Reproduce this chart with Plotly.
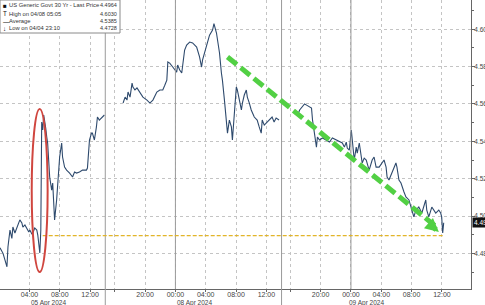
import plotly.graph_objects as go

# ---------------- data ----------------
seg1_t = ["2024-04-05 00:07","2024-04-05 00:31","2024-04-05 00:46","2024-04-05 01:02","2024-04-05 01:10",
          "2024-04-05 01:26","2024-04-05 01:41","2024-04-05 01:49","2024-04-05 02:05","2024-04-05 02:21",
          "2024-04-05 02:29","2024-04-05 02:44","2024-04-05 03:00","2024-04-05 03:08","2024-04-05 03:24",
          "2024-04-05 03:39","2024-04-05 03:55","2024-04-05 04:03","2024-04-05 04:19","2024-04-05 04:27",
          "2024-04-05 04:42","2024-04-05 04:58","2024-04-05 05:06","2024-04-05 05:22","2024-04-05 05:30",
          "2024-04-05 05:37","2024-04-05 05:45","2024-04-05 05:53","2024-04-05 06:01","2024-04-05 06:09",
          "2024-04-05 06:17","2024-04-05 06:24","2024-04-05 06:40","2024-04-05 06:56","2024-04-05 07:04",
          "2024-04-05 07:19","2024-04-05 07:35","2024-04-05 07:43","2024-04-05 07:59","2024-04-05 08:15",
          "2024-04-05 08:22","2024-04-05 08:38","2024-04-05 08:54","2024-04-05 09:18","2024-04-05 09:41",
          "2024-04-05 09:57","2024-04-05 10:13","2024-04-05 10:36","2024-04-05 11:00","2024-04-05 11:31",
          "2024-04-05 11:39","2024-04-05 11:55","2024-04-05 12:11","2024-04-05 12:18","2024-04-05 12:34",
          "2024-04-05 12:50","2024-04-05 12:58","2024-04-05 13:13","2024-04-05 13:29","2024-04-05 13:37",
          "2024-04-05 13:53"]
seg1_v = [4.4830,4.4800,4.4765,4.4728,4.4834,4.4925,4.4880,4.4941,4.4909,4.4936,
          4.4952,4.4979,4.4963,4.4941,4.4952,4.4936,4.4914,4.4925,4.4904,4.4909,
          4.4936,4.4925,4.4898,4.4802,4.4925,4.5503,4.5461,4.5541,4.5514,4.5470,
          4.5423,4.5391,4.5209,4.5139,4.5177,4.4979,4.5086,4.5155,4.5316,4.5391,
          4.5316,4.5262,4.5246,4.5230,4.5209,4.5236,4.5230,4.5236,4.5246,4.5246,
          4.5257,4.5407,4.5444,4.5444,4.5407,4.5477,4.5530,4.5514,4.5525,4.5530,
          4.5541]

seg2_t = ["2024-04-07 17:06","2024-04-07 17:22","2024-04-07 17:37","2024-04-07 17:45","2024-04-07 18:01",
          "2024-04-07 18:17","2024-04-07 18:24","2024-04-07 18:40","2024-04-07 18:56","2024-04-07 19:20",
          "2024-04-07 19:43","2024-04-07 20:15","2024-04-07 20:38","2024-04-07 21:02","2024-04-07 21:33",
          "2024-04-07 21:57","2024-04-07 22:20","2024-04-07 22:36","2024-04-07 22:52","2024-04-07 23:00",
          "2024-04-07 23:15","2024-04-07 23:39","2024-04-07 23:55","2024-04-08 00:10","2024-04-08 00:18",
          "2024-04-08 00:34","2024-04-08 00:50","2024-04-08 00:58","2024-04-08 01:13","2024-04-08 01:29",
          "2024-04-08 01:53","2024-04-08 02:16","2024-04-08 02:48","2024-04-08 03:11","2024-04-08 03:27",
          "2024-04-08 03:35","2024-04-08 03:51","2024-04-08 04:06","2024-04-08 04:30","2024-04-08 04:54",
          "2024-04-08 05:05","2024-04-08 05:25","2024-04-08 05:33","2024-04-08 05:49","2024-04-08 06:04",
          "2024-04-08 06:12","2024-04-08 06:28","2024-04-08 06:44","2024-04-08 06:52","2024-04-08 07:07",
          "2024-04-08 07:23","2024-04-08 07:31","2024-04-08 07:47","2024-04-08 08:02","2024-04-08 08:10",
          "2024-04-08 08:26","2024-04-08 08:42","2024-04-08 08:50","2024-04-08 09:05","2024-04-08 09:21",
          "2024-04-08 09:29","2024-04-08 09:45","2024-04-08 10:00","2024-04-08 10:24","2024-04-08 10:47",
          "2024-04-08 11:03","2024-04-08 11:19","2024-04-08 11:27","2024-04-08 11:43","2024-04-08 11:58",
          "2024-04-08 12:22","2024-04-08 12:45","2024-04-08 13:01","2024-04-08 13:17","2024-04-08 13:40"]
seg2_v = [4.5605,4.5637,4.5621,4.5664,4.5637,4.5712,4.5691,4.5675,4.5686,4.5664,
          4.5637,4.5621,4.5605,4.5621,4.5664,4.5675,4.5675,4.5700,4.5728,4.5825,
          4.5819,4.5798,4.5780,4.5771,4.5809,4.5782,4.5766,4.5819,4.5889,4.5916,
          4.5932,4.5927,4.5905,4.5852,4.5798,4.5836,4.5873,4.5905,4.5969,4.5996,
          4.6030,4.5980,4.5943,4.5873,4.5766,4.5728,4.5621,4.5514,4.5444,4.5514,
          4.5477,4.5407,4.5552,4.5691,4.5675,4.5621,4.5568,4.5605,4.5648,4.5675,
          4.5637,4.5605,4.5568,4.5530,4.5514,4.5477,4.5444,4.5514,4.5487,4.5498,
          4.5514,4.5530,4.5503,4.5525,4.5514]

seg3_t = ["2024-04-08 16:50","2024-04-08 16:58","2024-04-08 17:14","2024-04-08 17:37","2024-04-08 17:53",
          "2024-04-08 18:09","2024-04-08 18:32","2024-04-08 18:48","2024-04-08 18:56","2024-04-08 19:12",
          "2024-04-08 19:27","2024-04-08 19:35","2024-04-08 19:51","2024-04-08 20:15","2024-04-08 20:46",
          "2024-04-08 21:10","2024-04-08 21:33","2024-04-08 22:05","2024-04-08 22:28","2024-04-08 22:52",
          "2024-04-08 23:08","2024-04-08 23:23","2024-04-08 23:31","2024-04-08 23:47","2024-04-09 00:03",
          "2024-04-09 00:10","2024-04-09 00:26","2024-04-09 00:42","2024-04-09 00:50","2024-04-09 01:06",
          "2024-04-09 01:21","2024-04-09 01:29","2024-04-09 01:45","2024-04-09 02:01","2024-04-09 02:24",
          "2024-04-09 02:48","2024-04-09 03:03","2024-04-09 03:19","2024-04-09 03:43","2024-04-09 04:06",
          "2024-04-09 04:22","2024-04-09 04:38","2024-04-09 04:46","2024-04-09 05:01","2024-04-09 05:25",
          "2024-04-09 05:41","2024-04-09 05:56","2024-04-09 06:04","2024-04-09 06:20","2024-04-09 06:36",
          "2024-04-09 06:44","2024-04-09 06:59","2024-04-09 07:15","2024-04-09 07:39","2024-04-09 08:02",
          "2024-04-09 08:18","2024-04-09 08:34","2024-04-09 08:57","2024-04-09 09:21","2024-04-09 09:37",
          "2024-04-09 09:52","2024-04-09 10:00","2024-04-09 10:16","2024-04-09 10:40","2024-04-09 10:55",
          "2024-04-09 11:11","2024-04-09 11:35","2024-04-09 11:50","2024-04-09 11:58","2024-04-09 12:06",
          "2024-04-09 12:14"]
seg3_v = [4.5552,4.5541,4.5568,4.5584,4.5600,4.5594,4.5584,4.5578,4.5514,4.5444,
          4.5369,4.5423,4.5407,4.5418,4.5407,4.5396,4.5418,4.5407,4.5396,4.5391,
          4.5369,4.5396,4.5364,4.5353,4.5461,4.5407,4.5300,4.5369,4.5337,4.5391,
          4.5300,4.5284,4.5310,4.5300,4.5246,4.5300,4.5316,4.5262,4.5262,4.5284,
          4.5300,4.5262,4.5209,4.5193,4.5230,4.5262,4.5284,4.5262,4.5193,4.5177,
          4.5155,4.5130,4.5102,4.5086,4.5032,4.4995,4.5032,4.5048,4.5016,4.5048,
          4.5086,4.5032,4.4995,4.5048,4.5032,4.5016,4.5032,4.5016,4.4995,4.4909,
          4.4964]

x_tickvals = ["2024-04-05 04:00","2024-04-05 08:00","2024-04-05 12:00",
              "2024-04-07 16:00","2024-04-07 20:00","2024-04-08 00:00","2024-04-08 04:00",
              "2024-04-08 08:00","2024-04-08 12:00","2024-04-08 16:00","2024-04-08 20:00",
              "2024-04-09 00:00","2024-04-09 04:00","2024-04-09 08:00","2024-04-09 12:00"]
x_ticktext = ["04:00","08:00","12:00","","20:00","00:00","04:00","08:00","12:00","","20:00",
              "00:00","04:00","08:00","12:00"]
date_labels = ["05 Apr 2024","08 Apr 2024","09 Apr 2024"]
date_label_pos = ["2024-04-05 06:30","2024-04-08 02:30","2024-04-09 02:00"]
day_lines = ["2024-04-08 00:00","2024-04-09 00:00"]
session_breaks = ["2024-04-05 14:00","2024-04-08 14:00"]
y_tickvals = [4.48,4.50,4.52,4.54,4.56,4.58,4.60]

legend_names = ["US Generic Govt 30 Yr - Last Price","High on 04/08 05:05","Average","Low on 04/04 23:10"]
legend_symbols = ["■","T","—","↓"]
legend_values = [4.4964,4.6030,4.5385,4.4728]
last_price = 4.4964
ref_level = 4.4895

# ---------------- figure ----------------
xs = seg1_t + [None] + seg2_t + [None] + seg3_t
ys = seg1_v + [None] + seg2_v + [None] + seg3_v

fig = go.Figure()
fig.add_trace(go.Scatter(x=xs, y=ys, mode="lines", connectgaps=False,
                         line=dict(color="#2e4a6d", width=1.1), hoverinfo="skip"))

font = "Liberation Sans, Arial, sans-serif"
fig.update_layout(
    width=485, height=305, margin=dict(l=0, r=14, t=0, b=16, autoexpand=False),
    paper_bgcolor="white", plot_bgcolor="white", showlegend=False,
    font=dict(family=font, size=7, color="#444"),
)
fig.update_xaxes(
    type="date", range=["2024-04-05 00:07", "2024-04-09 15:50"], automargin=False,
    rangebreaks=[dict(values=["2024-04-05 14:00"], dvalue=int(48.75 * 3600 * 1000)),
                 dict(values=["2024-04-08 14:00"], dvalue=51 * 60 * 1000)],
    tickmode="array", tickvals=x_tickvals, ticktext=x_ticktext,
    showgrid=True, gridcolor="#c4c4c4", griddash="dot", gridwidth=1,
    showline=True, linecolor="#666", linewidth=1,
    ticks="outside", ticklen=2, tickcolor="#666", ticklabelstandoff=-3,
    tickfont=dict(size=7, color="#444"), zeroline=False,
)
fig.update_yaxes(
    side="right", range=[4.4609, 4.6157], automargin=False,
    tickmode="array", tickvals=y_tickvals, tickformat=".2f",
    showgrid=True, gridcolor="#c4c4c4", griddash="dot", gridwidth=1,
    showline=True, linecolor="#666", linewidth=1,
    ticks="outside", ticklen=3, tickcolor="#666", ticklabelstandoff=-2,
    minor=dict(ticks="outside", ticklen=2, dtick=0.01, tickcolor="#666", showgrid=False),
    tickfont=dict(size=6.5, color="#444"), zeroline=False,
)

shapes = []
for d in day_lines:
    shapes.append(dict(type="line", xref="x", yref="paper", x0=d, x1=d, y0=0, y1=1,
                       line=dict(color="#9a9a9a", width=1)))
for d in session_breaks:
    shapes.append(dict(type="line", xref="x", yref="paper", x0=d, x1=d, y0=-0.06, y1=1,
                       line=dict(color="#9a9a9a", width=1)))
# yellow reference level
shapes.append(dict(type="line", xref="x", yref="y", x0="2024-04-05 05:45", x1="2024-04-09 12:14",
                   y0=ref_level, y1=ref_level, line=dict(color="#e2b52a", width=1.3, dash="4px,2px")))
# red ellipse
shapes.append(dict(type="circle", xref="x", yref="y", x0="2024-04-05 04:18", x1="2024-04-05 06:24",
                   y0=4.4700, y1=4.5573, line=dict(color="#d0463f", width=2)))
# green dashed trend line
shapes.append(dict(type="line", xref="x", yref="y", x0="2024-04-08 06:52", x1="2024-04-09 11:10",
                   y0=4.5852, y1=4.4945, line=dict(color="#52d044", width=5, dash="12px,5px")))
# legend box
shapes.append(dict(type="rect", xref="paper", yref="paper", x0=0, x1=120 / 471, y0=1 - 33 / 289, y1=1,
                   fillcolor="white", line=dict(color="#8a8a8a", width=1), layer="above"))
fig.update_layout(shapes=shapes)

ann = []
# arrow head
ann.append(dict(x="2024-04-09 11:36", y=4.4914, xref="x", yref="y", showarrow=True,
                ax=-7, ay=-6, arrowhead=2, arrowsize=0.55, arrowwidth=5, arrowcolor="#52d044", text=""))
# date labels
for lab, pos in zip(date_labels, date_label_pos):
    ann.append(dict(x=pos, y=0, xref="x", yref="paper", yshift=-14, text=lab, showarrow=False,
                    xanchor="center", yanchor="middle", font=dict(size=6.5, color="#444")))
# last price box
ann.append(dict(x=1, y=last_price, xref="paper", yref="y", xanchor="left", xshift=1,
                text=f"{last_price:.4f}", showarrow=False, bgcolor="#111", borderpad=1,
                font=dict(size=6.5, color="white")))
# legend text
row_px = [5.5, 13.5, 21.0, 28.5]
for sym, name, val, rp in zip(legend_symbols, legend_names, legend_values, row_px):
    ry = 1 - rp / 289
    ann.append(dict(x=1 / 471, y=ry, xref="paper", yref="paper", text=sym, showarrow=False,
                    xanchor="left", yanchor="middle", font=dict(size=6.3, color="#111")))
    ann.append(dict(x=7 / 471, y=ry, xref="paper", yref="paper", text=name, showarrow=False,
                    xanchor="left", yanchor="middle", font=dict(size=5.8, color="#333")))
    ann.append(dict(x=119 / 471, y=ry, xref="paper", yref="paper", text=f"{val:.4f}", showarrow=False,
                    xanchor="right", yanchor="middle", font=dict(size=5.5, color="#333")))
fig.update_layout(annotations=ann)

fig.write_html("out.html")
